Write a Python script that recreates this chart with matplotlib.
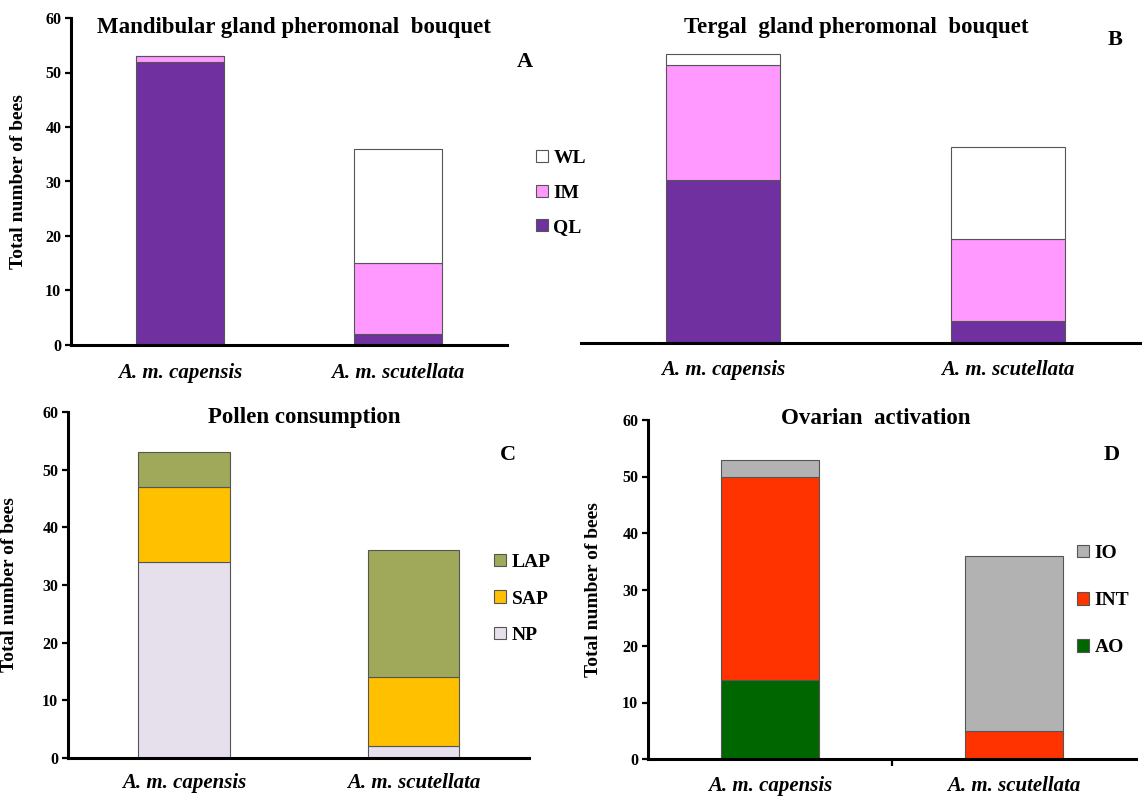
import matplotlib
matplotlib.use("Agg")
import matplotlib.pyplot as plt
from matplotlib.patches import Patch
import numpy as np

W, H = 1142, 799

species = ["A. m. capensis", "A. m. scutellata"]
yticks = [0, 10, 20, 30, 40, 50, 60]

# Panel A: Mandibular gland pheromonal bouquet
mand_labels = ["QL", "IM", "WL"]
mand_QL = [52, 2]
mand_IM = [1, 13]
mand_WL = [0, 21]

# Panel B: Tergal gland pheromonal bouquet
terg_QL = [30, 4]
terg_IM = [21, 15]
terg_WL = [2, 17]

# Panel C: Pollen consumption
pol_labels = ["NP", "SAP", "LAP"]
pol_NP = [34, 2]
pol_SAP = [13, 12]
pol_LAP = [6, 22]

# Panel D: Ovarian activation
ov_labels = ["AO", "INT", "IO"]
ov_AO = [14, 0]
ov_INT = [36, 5]
ov_IO = [3, 31]

pher_colors = ["#7030A0", "#FF99FF", "#FFFFFF"]
pol_colors = ["#E6E0EC", "#FFC000", "#A0A85A"]
ov_colors = ["#006600", "#FF3300", "#B2B2B2"]

plt.rcParams["font.family"] = ["Liberation Serif", "DejaVu Serif"]
plt.rcParams["font.weight"] = "bold"

fig = plt.figure(figsize=(W / 100, H / 100), dpi=100)


def add_ax(l, r, t, b):
    return fig.add_axes([l / W, 1 - b / H, (r - l) / W, (b - t) / H])


def stack(ax, series, colors):
    x = np.arange(len(species))
    bottom = np.zeros(len(species))
    for vals, c in zip(series, colors):
        ax.bar(x, vals, 0.4, bottom=bottom, color=c, edgecolor="#555555",
               linewidth=0.8, zorder=2)
        bottom = bottom + np.array(vals)


def style(ax, xlim, show_y=True, label_pad=8):
    ax.set_xlim(*xlim)
    ax.set_ylim(0, 60)
    for s in ["top", "right"]:
        ax.spines[s].set_visible(False)
    ax.spines["bottom"].set_linewidth(2.2)
    ax.spines["left"].set_linewidth(2.2)
    ax.set_xticks([0, 1])
    ax.set_xticklabels(species, fontsize=15, fontstyle="italic", fontweight="bold")
    ax.tick_params(axis="x", length=0, pad=label_pad)
    if show_y:
        ax.set_yticks(yticks)
        ax.set_yticklabels([str(v) for v in yticks], fontsize=11.5, fontweight="bold")
        ax.tick_params(axis="y", direction="out", length=4, width=1.6, pad=3)
        ax.set_ylabel("Total number of bees", fontsize=14, fontweight="bold")
    else:
        ax.spines["left"].set_visible(False)
        ax.set_yticks([])


def legend(labels, colors, x, ytop, spacing):
    handles = [Patch(facecolor=c, edgecolor="#555555", linewidth=0.8) for c in colors]
    fig.legend(handles[::-1], labels[::-1], loc="upper left",
               bbox_to_anchor=(x / W, 1 - ytop / H), frameon=False,
               prop={"family": "Liberation Serif", "weight": "bold", "size": 14},
               handlelength=0.6, handleheight=0.6, handletextpad=0.3,
               labelspacing=spacing, borderpad=0, borderaxespad=0)


# A
axA = add_ax(71, 507, 18, 345)
stack(axA, [mand_QL, mand_IM, mand_WL], pher_colors)
style(axA, (-0.5, 1.5), label_pad=13)
axA.yaxis.set_label_coords(-0.10, 0.5)
legend(mand_labels, pher_colors, 536, 150, 0.9)

# B
axB = add_ax(581, 1142, 16, 343)
stack(axB, [terg_QL, terg_IM, terg_WL], pher_colors)
style(axB, (-0.5, 1.47), show_y=False, label_pad=12)

# C
axC = add_ax(68, 529, 412, 758)
stack(axC, [pol_NP, pol_SAP, pol_LAP], pol_colors)
style(axC, (-0.505, 1.503), label_pad=11)
axC.yaxis.set_label_coords(-0.108, 0.5)
legend(pol_labels, pol_colors, 494, 554, 1.0)

# D
axD = add_ax(648, 1136, 420, 759)
stack(axD, [ov_AO, ov_INT, ov_IO], ov_colors)
style(axD, (-0.5, 1.5), label_pad=12)
axD.set_xticks([0.5], minor=True)
axD.tick_params(axis="x", which="minor", direction="out", length=5, width=1.6)
axD.yaxis.set_label_coords(-0.094, 0.5)
legend(ov_labels, ov_colors, 1077, 545, 1.55)

# Titles and panel letters
tkw = dict(fontsize=16.5, fontweight="bold", ha="center", va="center")
fig.text(294 / W, 1 - 27 / H, "Mandibular gland pheromonal  bouquet", **tkw)
fig.text(856 / W, 1 - 27 / H, "Tergal  gland pheromonal  bouquet", **tkw)
fig.text(304 / W, 1 - 417 / H, "Pollen consumption", **tkw)
fig.text(876 / W, 1 - 418 / H, "Ovarian  activation", **tkw)

lkw = dict(fontsize=16, fontweight="bold", ha="center", va="center")
fig.text(525 / W, 1 - 62 / H, "A", **lkw)
fig.text(1115 / W, 1 - 40 / H, "B", **lkw)
fig.text(508 / W, 1 - 455 / H, "C", **lkw)
fig.text(1112 / W, 1 - 455 / H, "D", **lkw)

fig.savefig("out.png", dpi=100)
